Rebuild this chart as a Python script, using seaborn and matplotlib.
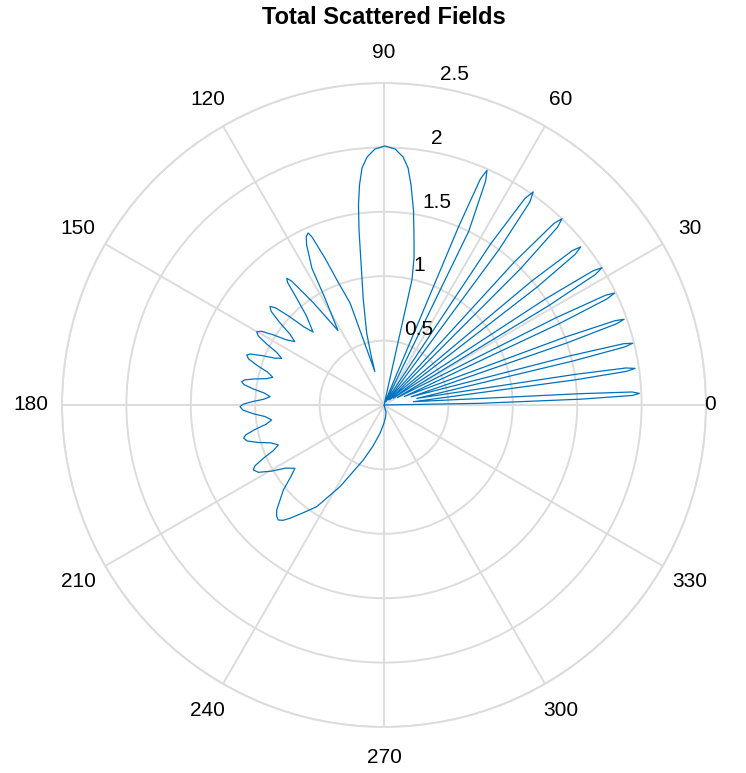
import numpy as np
import matplotlib
matplotlib.use("Agg")
import matplotlib.pyplot as plt
import seaborn as sns

sns.set_style("white")
plt.rcParams["font.family"] = ["Liberation Sans", "DejaVu Sans"]
plt.rcParams["text.color"] = "black"

# angle (deg) and field magnitude, in drawing order
# narrow lobes between 0 and 75 deg
fwd_angle = [0.0, 1.0, 1.7, 2.2, 2.6, 3.0, 3.3, 6.4,
             7.5, 7.9, 8.3, 8.7, 9.1, 11.4,
             13.1, 13.55, 13.95, 14.35, 14.8, 16.8,
             18.75, 19.25, 19.65, 20.05, 20.55, 22.7,
             24.9, 25.45, 25.9, 26.35, 26.9, 29.0,
             31.1, 31.7, 32.2, 32.7, 33.3, 35.6,
             37.6, 38.25, 38.8, 39.35, 40.0, 42.5,
             44.95, 45.7, 46.3, 46.9, 47.65, 50.5,
             53.5, 54.3, 55.0, 55.7, 56.5, 60.5,
             64.0, 65.6, 66.3, 66.9, 67.3, 76.0]
fwd_field = [0.00, 0.75, 1.53, 1.93, 1.985, 1.93, 1.53, 0.23,
             1.50, 1.90, 1.97, 1.90, 1.50, 0.26,
             1.50, 1.92, 1.99, 1.92, 1.50, 0.22,
             1.50, 1.91, 1.98, 1.91, 1.50, 0.17,
             1.50, 1.92, 1.99, 1.92, 1.50, 0.12,
             1.50, 1.93, 2.00, 1.93, 1.50, 0.09,
             1.50, 1.89, 1.96, 1.89, 1.50, 0.06,
             1.50, 1.93, 2.00, 1.93, 1.50, 0.05,
             1.50, 1.94, 2.02, 1.94, 1.50, 0.03,
             1.50, 1.91, 1.99, 1.91, 1.50, 0.01]

# main lobe around 90 deg
main_angle = [77.4, 78.5, 80.0, 81.4, 83.0, 84.2, 85.6, 87.5, 89.8,
              92.0, 93.9, 95.3, 96.35, 97.27, 98.13, 98.9, 101.15,
              103.56, 104.57, 105.3]
main_field = [0.995, 1.172, 1.34, 1.531, 1.721, 1.85, 1.931, 1.989, 2.011,
              1.989, 1.93, 1.848, 1.719, 1.565, 1.372, 1.179, 0.831,
              0.573, 0.401, 0.27]

# side lobes, 105 to 215 deg
side_angle = [108.4, 110.5, 111.9, 113.2, 113.8, 114.8, 115.8, 117.8, 118.9, 121.7,
              124.6, 126.7, 127.5, 128.2, 129.2, 131.0, 134.2,
              135.7, 136.95, 138.2, 139.2, 140.28, 141.63, 142.98, 144.6,
              146.25, 147.63, 149.0, 150.1, 151.18, 152.53, 153.88, 155.5,
              156.85, 157.98, 159.1, 160.0, 161.2, 162.7, 164.2, 166.0,
              167.41, 168.59, 169.76, 170.7, 171.72, 173.0, 174.27, 175.8,
              177.27, 178.5, 179.72, 180.7, 182.08, 183.81, 185.53, 187.6,
              189.31, 190.74, 192.16, 193.3, 194.78, 196.63, 198.48, 200.7,
              202.41, 203.84, 205.26, 206.4, 208.2, 210.45, 212.7, 215.4]
side_field = [0.835, 1.02, 1.23, 1.42, 1.46, 1.44, 1.38, 1.20, 0.95, 0.68,
              0.96, 1.20, 1.24, 1.21, 1.08, 0.92, 0.79,
              0.868, 1.010, 1.134, 1.17, 1.140, 1.035, 0.916, 0.85,
              0.910, 1.018, 1.112, 1.14, 1.115, 1.027, 0.928, 0.873,
              0.927, 1.024, 1.109, 1.134, 1.111, 1.031, 0.940, 0.89,
              0.937, 1.023, 1.098, 1.12, 1.098, 1.022, 0.935, 0.887,
              0.935, 1.021, 1.096, 1.118, 1.095, 1.018, 0.929, 0.88,
              0.929, 1.019, 1.097, 1.12, 1.097, 1.017, 0.927, 0.877,
              0.930, 1.025, 1.109, 1.133, 1.106, 1.013, 0.907, 0.848]

# back lobe, 215 to 360 deg
back_angle = [217.5, 220.2, 224.4, 226.0, 227.4, 228.8, 230.3, 233.0, 236.5,
              241.7, 249.4, 255.0, 262.0, 270.0, 278.0, 286.0, 300.0, 360.0]
back_field = [0.91, 1.023, 1.166, 1.20, 1.213, 1.19, 1.143, 1.05, 0.947,
              0.72, 0.456, 0.33, 0.222, 0.14, 0.092, 0.056, 0.0, 0.0]

r_ticks = [0.5, 1, 1.5, 2, 2.5]
theta_ticks = [0, 30, 60, 90, 120, 150, 180, 210, 240, 270, 300, 330]

angle = np.deg2rad(fwd_angle + main_angle + side_angle + back_angle)
field = np.array(fwd_field + main_field + side_field + back_field)

fig = plt.figure(figsize=(7.46, 7.73), dpi=100)
ax = fig.add_axes([62 / 746, 46 / 773, 644 / 746, 644 / 773], projection="polar")

grid_col = "#dcdcdc"
ax.set_ylim(0, 2.5)
ax.set_yticks(r_ticks)
ax.set_yticklabels([])
ax.set_xticks(np.deg2rad(theta_ticks))
ax.set_xticklabels([])
ax.tick_params(length=0)
ax.grid(True, color=grid_col, linewidth=1.4)
ax.spines["polar"].set_color(grid_col)
ax.spines["polar"].set_linewidth(1.4)

sns.lineplot(x=angle, y=field, ax=ax, sort=False, estimator=None,
             color="#0072BD", linewidth=0.9)
ax.set_xlabel("")
ax.set_ylabel("")

for t in theta_ticks:
    rad = 2.53 if t == 0 else 2.74
    ax.text(np.deg2rad(t), rad, str(t), ha="center", va="center",
            fontsize=15, color="black", clip_on=False)

for r in r_ticks:
    ax.annotate(f"{r:g}", xy=(np.deg2rad(82), r), xytext=(8.3, 4.3),
                textcoords="offset points", ha="left", va="baseline",
                fontsize=15, color="black")

fig.text(384 / 746, 1 - 18 / 773, "Total Scattered Fields", ha="center",
         va="center", fontsize=17, fontweight="bold", color="black")

fig.savefig("out.png", dpi=100)
